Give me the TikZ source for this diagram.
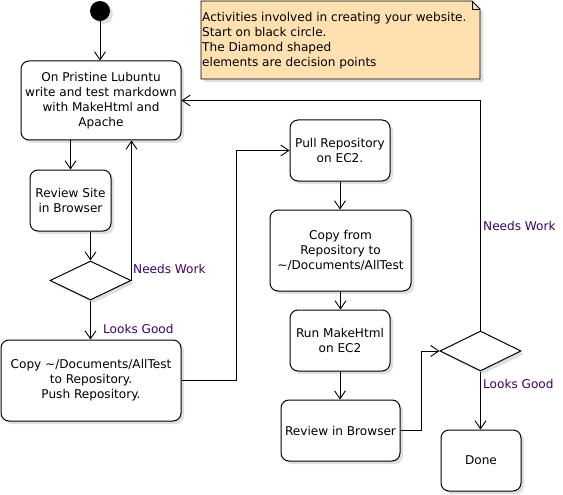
\documentclass[tikz,border=0pt]{standalone}
\usepackage{fontspec}
\setmainfont{DejaVu Sans}
\usetikzlibrary{arrows.meta,shapes.geometric,shadows}
\definecolor{notefill}{RGB}{255,224,176}
\definecolor{lblcol}{RGB}{60,0,100}
\tikzset{
  act/.style={draw, rounded corners=8pt, fill=white, line width=1pt, align=center,
    inner sep=0pt, drop shadow={shadow xshift=3pt, shadow yshift=-3pt, opacity=0.25}},
  dec/.style={draw, diamond, fill=white, line width=1pt, inner sep=0pt,
    drop shadow={shadow xshift=3pt, shadow yshift=-3pt, opacity=0.25}},
  arr/.style={draw, line width=0.9pt, -{Straight Barb[length=8pt,width=11pt]}},
  lbl/.style={text=lblcol, anchor=west, inner sep=0pt},
}
\begin{document}
\begin{tikzpicture}[x=1pt,y=-1pt,font=\fontsize{12.1}{15}\selectfont]
\useasboundingbox (0,0) rectangle (563,495);
% start
\node[circle, fill=black, minimum size=20pt, inner sep=0pt,
  drop shadow={shadow xshift=3pt, shadow yshift=-3pt, opacity=0.25}] (start) at (100,11) {};
% note
\path[fill=notefill, draw, line width=0.8pt,
  drop shadow={shadow xshift=3pt, shadow yshift=-3pt, opacity=0.25}]
  (201,1) -- (472,1) -- (480,9) -- (480,79) -- (201,79) -- cycle;
\draw[line width=0.8pt] (472,1) -- (472,9) -- (480,9);
\node[anchor=west, align=left, inner sep=0pt] (note) at (202,40.5)
  {Activities involved in creating your website.\\Start on black circle.\\The Diamond shaped\\elements are decision points};
% activities
\node[act, minimum width=160pt, minimum height=79pt] (box1) at (101,100.5)
  {On Pristine Lubuntu\\write and test markdown\\with MakeHtml and\\Apache};
\node[act, minimum width=81pt, minimum height=61pt] (rsite) at (70.5,200.5)
  {Review Site\\in Browser};
\node[dec, minimum width=81pt, minimum height=39pt] (d1) at (90.5,280.5) {};
\node[act, minimum width=180pt, minimum height=81pt] (copy) at (91,380.5)
  {Copy \textasciitilde/Documents/AllTest\\to Repository.\\Push Repository.};
\node[act, minimum width=100pt, minimum height=61pt] (pull) at (340,150.5)
  {Pull Repository\\on EC2.};
\node[act, minimum width=141pt, minimum height=81pt] (cfrom) at (340.5,250.5)
  {Copy from\\Repository to\\\textasciitilde/Documents/AllTest};
\node[act, minimum width=100pt, minimum height=61pt] (run) at (340,340.5)
  {Run MakeHtml\\on EC2};
\node[act, minimum width=119pt, minimum height=61pt] (rin) at (340.5,430.5)
  {Review in Browser};
\node[dec, minimum width=81pt, minimum height=40pt] (d2) at (480.5,351) {};
\node[act, minimum width=80pt, minimum height=61pt] (done) at (481,460.5) {Done};
% connectors
\draw[arr] (start) -- (start |- box1.north);
\draw[arr] (rsite.north |- box1.south) -- (rsite.north);
\draw[arr] (d1.north |- rsite.south) -- (d1.north);
\draw[arr] (d1.east) -- (d1.east |- box1.south);
\draw[arr] (d1.south) -- (d1.south |- copy.north);
\draw[arr] (copy.east) -- ++(55,0) |- (pull.west);
\draw[arr] (pull.south) -- (pull.south |- cfrom.north);
\draw[arr] (cfrom.south) -- (cfrom.south |- run.north);
\draw[arr] (run.south) -- (run.south |- rin.north);
\draw[arr] (rin.east) -- ++(21,0) |- (d2.west);
\draw[arr] (d2.north) |- (box1.east);
\draw[arr] (d2.south) -- (d2.south |- done.north);
% labels
\node[lbl] (nw1) at (133,269) {Needs Work};
\node[lbl] (lg1) at (103,329) {Looks Good};
\node[lbl] (nw2) at (483,226) {Needs Work};
\node[lbl] (lg2) at (483,384) {Looks Good};
\end{tikzpicture}
\end{document}
